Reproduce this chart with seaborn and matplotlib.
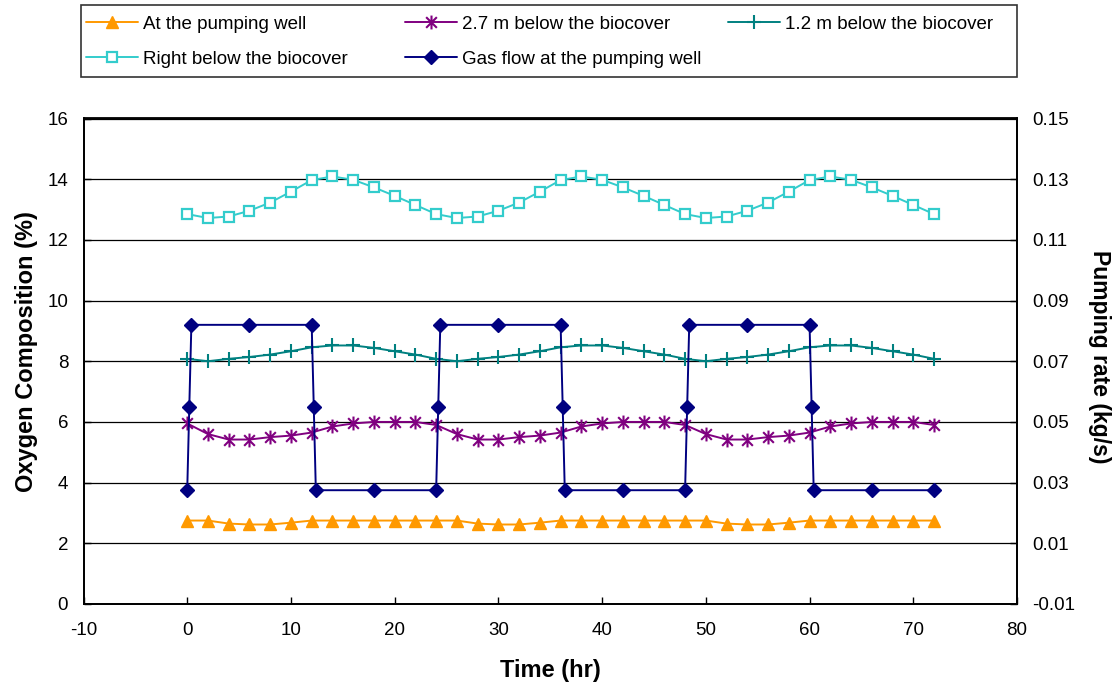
import matplotlib
matplotlib.use("Agg")
import matplotlib.pyplot as plt
import seaborn as sns
from matplotlib.path import Path
from matplotlib.patches import Rectangle
from matplotlib.ticker import FixedLocator, FuncFormatter

# ---- data -------------------------------------------------------------
hours = [0, 2, 4, 6, 8, 10, 12, 14, 16, 18, 20, 22,
         24, 26, 28, 30, 32, 34, 36, 38, 40, 42, 44, 46,
         48, 50, 52, 54, 56, 58, 60, 62, 64, 66, 68, 70, 72]

at_pumping_well = [2.75, 2.75, 2.65, 2.62, 2.62, 2.68, 2.75, 2.75, 2.75, 2.75, 2.75, 2.75,
                   2.75, 2.75, 2.65, 2.62, 2.62, 2.68, 2.75, 2.75, 2.75, 2.75, 2.75, 2.75,
                   2.75, 2.75, 2.65, 2.62, 2.62, 2.68, 2.75, 2.75, 2.75, 2.75, 2.75, 2.75,
                   2.75]

below_2_7m = [5.95, 5.60, 5.42, 5.42, 5.50, 5.55, 5.65, 5.85, 5.95, 6.00, 6.00, 6.00,
              5.90, 5.60, 5.42, 5.42, 5.50, 5.55, 5.65, 5.85, 5.95, 6.00, 6.00, 6.00,
              5.90, 5.60, 5.42, 5.42, 5.50, 5.55, 5.65, 5.85, 5.95, 6.00, 6.00, 6.00,
              5.90]

below_1_2m = [8.08, 8.00, 8.08, 8.14, 8.22, 8.33, 8.46, 8.52, 8.52, 8.44, 8.33, 8.22,
              8.08, 8.00, 8.08, 8.14, 8.22, 8.33, 8.46, 8.52, 8.52, 8.44, 8.33, 8.22,
              8.08, 8.00, 8.08, 8.14, 8.22, 8.33, 8.46, 8.52, 8.52, 8.44, 8.33, 8.22,
              8.08]

right_below = [12.85, 12.72, 12.77, 12.96, 13.23, 13.59, 13.97, 14.09, 13.98, 13.73, 13.45, 13.15,
               12.85, 12.72, 12.77, 12.96, 13.23, 13.59, 13.97, 14.09, 13.98, 13.73, 13.45, 13.15,
               12.85, 12.72, 12.77, 12.96, 13.23, 13.59, 13.97, 14.09, 13.98, 13.73, 13.45, 13.15,
               12.85]

gas_hours = [0, 0.2, 0.4, 6, 12, 12.2, 12.4, 18,
             24, 24.2, 24.4, 30, 36, 36.2, 36.4, 42,
             48, 48.2, 48.4, 54, 60, 60.2, 60.4, 66, 72]
gas_rate = [0.0275, 0.055, 0.082, 0.082, 0.082, 0.055, 0.0275, 0.0275,
            0.0275, 0.055, 0.082, 0.082, 0.082, 0.055, 0.0275, 0.0275,
            0.0275, 0.055, 0.082, 0.082, 0.082, 0.055, 0.0275, 0.0275, 0.0275]

x_ticks = [-10, 0, 10, 20, 30, 40, 50, 60, 70, 80]
o2_ticks = [0, 2, 4, 6, 8, 10, 12, 14, 16]
rate_ticks = [-0.01, 0.01, 0.03, 0.05, 0.07, 0.09, 0.11, 0.13, 0.15]

labels = ["At the pumping well", "2.7 m below the biocover", "1.2 m below the biocover",
          "Right below the biocover", "Gas flow at the pumping well"]

# ---- style ------------------------------------------------------------
sns.set_theme(style="white")
plt.rcParams["font.family"] = ["Liberation Sans", "DejaVu Sans"]
plt.rcParams["axes.unicode_minus"] = False

ORANGE = "#FF9900"
PURPLE = "#800080"
TEAL = "#008080"
CYAN = "#33CCCC"
NAVY = "#000080"

# six-armed asterisk: an X with a vertical stroke
asterisk = Path([(-1, -1), (1, 1), (-1, 1), (1, -1), (0, -1.3), (0, 1.3)],
                [Path.MOVETO, Path.LINETO, Path.MOVETO, Path.LINETO, Path.MOVETO, Path.LINETO])

W, H = 1114, 687
fig = plt.figure(figsize=(W / 100, H / 100), dpi=100)
L, R, T, B = 83.5, 1017, 118.5, 604
ax = fig.add_axes([L / W, 1 - B / H, (R - L) / W, (B - T) / H])
ax2 = ax.twinx()

line_kw = dict(linewidth=1.4, sort=False, estimator=None, legend=False)

sns.lineplot(x=hours, y=at_pumping_well, ax=ax, color=ORANGE, marker="^",
             markersize=9, markerfacecolor=ORANGE, markeredgecolor=ORANGE,
             markeredgewidth=1, **line_kw)
sns.lineplot(x=hours, y=below_2_7m, ax=ax, color=PURPLE, marker=asterisk,
             markersize=10, markerfacecolor="none", markeredgecolor=PURPLE,
             markeredgewidth=1.5, **line_kw)
sns.lineplot(x=hours, y=below_1_2m, ax=ax, color=TEAL, marker="+",
             markersize=10, markeredgecolor=TEAL, markeredgewidth=1.5, **line_kw)
sns.lineplot(x=hours, y=right_below, ax=ax, color=CYAN, marker="s",
             markersize=7, markerfacecolor="white", markeredgecolor=CYAN,
             markeredgewidth=1.6, **line_kw)
sns.lineplot(x=gas_hours, y=gas_rate, ax=ax2, color=NAVY, marker="D",
             markersize=7.5, markerfacecolor=NAVY, markeredgecolor=NAVY,
             markeredgewidth=1, **line_kw)

handles = list(ax.lines) + list(ax2.lines)

# ---- axes -------------------------------------------------------------
ax.set_xlim(x_ticks[0], x_ticks[-1])
ax.set_ylim(o2_ticks[0], o2_ticks[-1])
ax2.set_ylim(rate_ticks[0], rate_ticks[-1])
ax.xaxis.set_major_locator(FixedLocator(x_ticks))
ax.yaxis.set_major_locator(FixedLocator(o2_ticks))
ax2.yaxis.set_major_locator(FixedLocator(rate_ticks))
ax2.yaxis.set_major_formatter(FuncFormatter(lambda v, p: f"{v:.2f}"))

ax.set_axisbelow(True)
ax.yaxis.grid(True, color="black", linewidth=0.9)
ax.xaxis.grid(False)
ax2.grid(False)

for a in (ax, ax2):
    for s in a.spines.values():
        s.set_color("black")
        s.set_linewidth(1.3)
        s.set_visible(True)

ax.tick_params(axis="x", direction="in", length=5, width=1, color="black",
               labelsize=13.5, labelcolor="black", pad=13, bottom=True)
ax.tick_params(axis="y", direction="in", length=5, width=1, color="black",
               labelsize=13.5, labelcolor="black", pad=11, left=True)
ax2.tick_params(axis="y", direction="in", length=5, width=1, color="black",
                labelsize=13.5, labelcolor="black", pad=11, right=True)

ax.set_xlabel("Time (hr)", fontsize=17, fontweight="bold", color="black")
ax.xaxis.set_label_coords(0.5, -0.113)
ax.set_ylabel("Oxygen Composition (%)", fontsize=17, fontweight="bold", color="black")
ax.yaxis.set_label_coords(-0.049, 0.52)
ax2.set_ylabel("Pumping rate (kg/s)", fontsize=16.5, fontweight="bold", color="black",
               rotation=270, va="bottom")
ax2.yaxis.set_label_coords(1.076, 0.51)

# ---- legend (boxed, three columns above the plot) -----------------------
fig.patches.append(Rectangle((81 / W, 1 - 77 / H), (1017 - 81) / W, (77 - 5) / H,
                             transform=fig.transFigure, fill=False,
                             edgecolor="#333333", linewidth=1.2))
slots = [(86, 24), (405, 24), (728, 24), (86, 59), (405, 59)]
for h, lab, (px, py) in zip(handles, labels, slots):
    fig.legend([h], [lab], loc="center left", bbox_to_anchor=(px / W, 1 - py / H),
               bbox_transform=fig.transFigure, frameon=False, fontsize=13.5,
               borderpad=0, borderaxespad=0, handlelength=2.75, handletextpad=0.3,
               labelcolor="black")

fig.savefig("out.png", dpi=100)
